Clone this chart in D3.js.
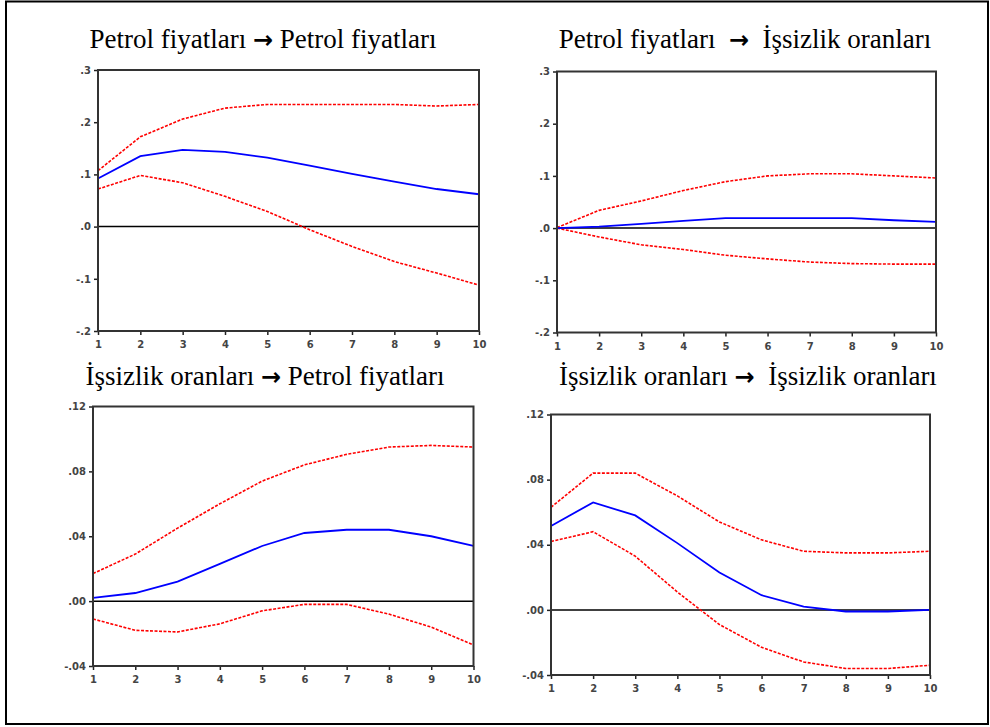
<!DOCTYPE html>
<meta charset="utf-8">
<head>
    <script type="text/javascript" src="https://d3js.org/d3.v7.min.js"></script>
    <style>
        body { margin: 0; background: #fff; }
        .title { font-family: "Liberation Serif", "Times New Roman", serif; font-size: 27px; fill: #000; white-space: pre; }
        .tick text { font-family: "DejaVu Sans", Verdana, sans-serif; font-size: 10px; font-weight: bold; fill: #444; }
    </style>
    <title>Etki-tepki fonksiyonları</title>
</head>
<body>
<script>

    // periods on x axis
    var periods = [1, 2, 3, 4, 5, 6, 7, 8, 9, 10];

    // Petrol fiyatlari -> Petrol fiyatlari
    var pp_resp  = [0.092, 0.135, 0.147, 0.143, 0.132, 0.117, 0.101, 0.086, 0.072, 0.062];
    var pp_upper = [0.107, 0.172, 0.206, 0.227, 0.234, 0.234, 0.234, 0.234, 0.231, 0.234];
    var pp_lower = [0.072, 0.098, 0.084, 0.058, 0.029, -0.006, -0.038, -0.067, -0.089, -0.112];

    // Petrol fiyatlari -> Issizlik oranlari
    var pi_resp  = [0.000, 0.003, 0.008, 0.014, 0.019, 0.019, 0.019, 0.019, 0.015, 0.012];
    var pi_upper = [0.001, 0.034, 0.052, 0.072, 0.089, 0.100, 0.104, 0.104, 0.100, 0.096];
    var pi_lower = [0.000, -0.017, -0.032, -0.041, -0.052, -0.059, -0.065, -0.068, -0.069, -0.069];

    // Issizlik oranlari -> Petrol fiyatlari
    var ip_resp  = [0.002, 0.005, 0.012, 0.023, 0.034, 0.042, 0.044, 0.044, 0.040, 0.034];
    var ip_upper = [0.017, 0.029, 0.045, 0.060, 0.074, 0.084, 0.0905, 0.095, 0.096, 0.095];
    var ip_lower = [-0.011, -0.018, -0.019, -0.014, -0.006, -0.002, -0.002, -0.008, -0.016, -0.027];

    // Issizlik oranlari -> Issizlik oranlari
    var ii_resp  = [0.0515, 0.066, 0.058, 0.041, 0.023, 0.009, 0.002, -0.001, -0.001, 0.000];
    var ii_upper = [0.063, 0.084, 0.084, 0.070, 0.054, 0.043, 0.036, 0.035, 0.035, 0.036];
    var ii_lower = [0.042, 0.048, 0.033, 0.011, -0.009, -0.023, -0.032, -0.036, -0.036, -0.034];

    var ticksBig   = [-0.2, -0.1, 0, 0.1, 0.2, 0.3];
    var labelsBig  = ["-.2", "-.1", ".0", ".1", ".2", ".3"];
    var ticksSmall = [-0.04, 0, 0.04, 0.08, 0.12];
    var labelsSmall = ["-.04", ".00", ".04", ".08", ".12"];

    var width = 990, height = 727;

    var svg = d3.select("body").append("svg")
        .attr("width", width)
        .attr("height", height);

    // outer frame
    svg.append("rect")
        .attr("x", 6).attr("y", 1.5)
        .attr("width", 982).attr("height", 722.5)
        .attr("fill", "none")
        .attr("stroke", "#000")
        .attr("stroke-width", 2);

    var panels = [
        {left: 98, right: 479, top: 70, bottom: 331, domain: [-0.2, 0.3], ticks: ticksBig, labels: labelsBig,
         resp: pp_resp, upper: pp_upper, lower: pp_lower,
         title: ["Petrol fiyatları ", "→", " Petrol fiyatları"], tx: 263, ty: 48},
        {left: 557, right: 936, top: 71.5, bottom: 332.5, domain: [-0.2, 0.3], ticks: ticksBig, labels: labelsBig,
         resp: pi_resp, upper: pi_upper, lower: pi_lower,
         title: ["Petrol fiyatları  ", "→", "  İşsizlik oranları"], tx: 745, ty: 48},
        {left: 93, right: 473.5, top: 406.5, bottom: 666, domain: [-0.04, 0.12], ticks: ticksSmall, labels: labelsSmall,
         resp: ip_resp, upper: ip_upper, lower: ip_lower,
         title: ["İşsizlik oranları ", "→", " Petrol fiyatları"], tx: 265, ty: 385},
        {left: 551, right: 930, top: 414.5, bottom: 675, domain: [-0.04, 0.12], ticks: ticksSmall, labels: labelsSmall,
         resp: ii_resp, upper: ii_upper, lower: ii_lower,
         title: ["İşsizlik oranları ", "→", "  İşsizlik oranları"], tx: 748, ty: 385}
    ];

    panels.forEach(function (p) {
        var x = d3.scaleLinear().domain([1, 10]).range([p.left, p.right]);
        var y = d3.scaleLinear().domain(p.domain).range([p.bottom, p.top]);

        var g = svg.append("g");

        // title
        var t = g.append("text")
            .attr("class", "title")
            .attr("x", p.tx).attr("y", p.ty)
            .attr("text-anchor", "middle");
        t.append("tspan").text(p.title[0]);
        t.append("tspan").attr("font-weight", "bold").attr("font-family", "DejaVu Sans").attr("font-size", "24px").text(p.title[1]);
        t.append("tspan").text(p.title[2]);

        // axes
        var yAxis = d3.axisLeft(y)
            .tickValues(p.ticks)
            .tickSize(4)
            .tickPadding(3)
            .tickFormat(function (d, i) { return p.labels[i]; });
        var xAxis = d3.axisBottom(x)
            .tickValues(periods)
            .tickSize(4)
            .tickPadding(6)
            .tickFormat(d3.format("d"));

        var ya = g.append("g")
            .attr("transform", "translate(" + p.left + ",0)")
            .call(yAxis);
        var xa = g.append("g")
            .attr("transform", "translate(0," + p.bottom + ")")
            .call(xAxis);
        [ya, xa].forEach(function (a) {
            a.select(".domain").remove();
            a.selectAll(".tick line").attr("stroke", "#222").attr("stroke-width", 1.5);
        });

        // zero line
        g.append("line")
            .attr("x1", p.left).attr("x2", p.right)
            .attr("y1", y(0)).attr("y2", y(0))
            .attr("stroke", "#000")
            .attr("stroke-width", 1.5);

        var line = d3.line()
            .x(function (d, i) { return x(periods[i]); })
            .y(function (d) { return y(d); });

        g.append("path").datum(p.upper)
            .attr("d", line)
            .attr("fill", "none")
            .attr("stroke", "#ff0000")
            .attr("stroke-width", 1.6)
            .attr("stroke-dasharray", "3,1.5");
        g.append("path").datum(p.lower)
            .attr("d", line)
            .attr("fill", "none")
            .attr("stroke", "#ff0000")
            .attr("stroke-width", 1.6)
            .attr("stroke-dasharray", "3,1.5");
        g.append("path").datum(p.resp)
            .attr("d", line)
            .attr("fill", "none")
            .attr("stroke", "#0000ff")
            .attr("stroke-width", 1.8);

        // plot frame
        g.append("rect")
            .attr("x", p.left).attr("y", p.top)
            .attr("width", p.right - p.left).attr("height", p.bottom - p.top)
            .attr("fill", "none")
            .attr("stroke", "#333")
            .attr("stroke-width", 2);
    });

</script>
</body>
</html>
